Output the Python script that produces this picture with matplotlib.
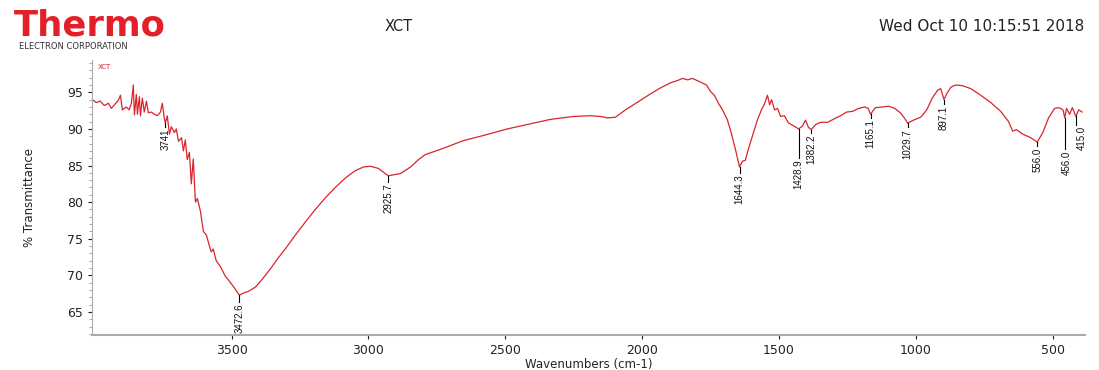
import matplotlib
matplotlib.use('Agg')
import matplotlib.pyplot as plt
from matplotlib.ticker import MultipleLocator

plt.rcParams['font.family'] = ['DejaVu Sans']

# Spectrum (wavenumber cm-1, % transmittance)
wavenumber = [4009, 3994, 3980, 3965, 3950, 3939, 3928, 3914, 3906, 3899,
              3885, 3874, 3866, 3859, 3855, 3848, 3844, 3837, 3833, 3826,
              3819, 3811, 3804, 3793, 3782, 3771, 3760, 3753, 3746, 3742,
              3735, 3727, 3720, 3709, 3702, 3694, 3683, 3676, 3669, 3662,
              3654, 3647, 3640, 3632, 3625, 3614, 3603, 3592, 3581, 3574,
              3567, 3556, 3541, 3523, 3504, 3490, 3472, 3455, 3439, 3413,
              3387, 3358, 3329, 3300, 3267, 3230, 3194, 3157, 3121, 3084,
              3048, 3018, 2993, 2963, 2942, 2927, 2912, 2883, 2846, 2817,
              2792, 2737, 2653, 2580, 2492, 2419, 2335, 2251, 2189, 2152,
              2126, 2097, 2061, 2006, 1969, 1933, 1896, 1871, 1852, 1834,
              1816, 1787, 1765, 1750, 1736, 1721, 1706, 1688, 1674, 1659,
              1644, 1633, 1623, 1612, 1597, 1579, 1564, 1553, 1542, 1534,
              1527, 1516, 1505, 1494, 1480, 1465, 1450, 1428, 1414, 1403,
              1392, 1382, 1366, 1348, 1322, 1297, 1275, 1253, 1231, 1209,
              1187, 1174, 1165, 1148, 1121, 1099, 1077, 1056, 1040, 1030,
              1008, 982, 960, 940, 920, 909, 897, 887, 872, 854,
              829, 799, 763, 726, 690, 661, 646, 632, 610, 580,
              556, 536, 515, 493, 478, 466, 461, 456, 449, 438,
              428, 415, 405, 392]
transmittance = [94.0, 93.6, 93.8, 93.2, 93.5, 92.8, 93.3, 93.9, 94.6, 92.6,
                 93.0, 92.6, 93.5, 96.0, 91.9, 94.7, 92.0, 94.4, 91.8, 94.2,
                 92.3, 93.8, 92.2, 92.3, 92.0, 91.8, 92.3, 93.5, 91.5, 90.8,
                 91.8, 89.3, 90.3, 89.5, 90.0, 88.3, 88.8, 87.0, 88.5, 85.8,
                 86.8, 82.5, 85.9, 80.0, 80.5, 78.8, 76.0, 75.5, 74.0, 73.2,
                 73.6, 72.0, 71.2, 69.9, 69.0, 68.3, 67.3, 67.6, 67.8, 68.4,
                 69.5, 70.9, 72.4, 73.8, 75.5, 77.3, 79.0, 80.6, 82.0, 83.3,
                 84.3, 84.8, 84.9, 84.6, 84.0, 83.6, 83.7, 83.9, 84.8, 85.8,
                 86.5, 87.2, 88.4, 89.1, 90.0, 90.6, 91.3, 91.7, 91.8, 91.7,
                 91.5, 91.6, 92.6, 93.9, 94.8, 95.6, 96.3, 96.6, 96.9, 96.7,
                 96.9, 96.4, 96.0, 95.1, 94.6, 93.5, 92.6, 91.2, 89.4, 87.2,
                 84.8, 85.6, 85.7, 87.2, 89.0, 91.2, 92.6, 93.4, 94.6, 93.3,
                 94.0, 92.6, 92.8, 91.7, 91.8, 90.8, 90.5, 90.0, 90.4, 91.2,
                 90.2, 89.9, 90.6, 90.9, 90.9, 91.4, 91.8, 92.3, 92.4, 92.8,
                 93.0, 92.8, 92.0, 92.9, 93.0, 93.1, 92.8, 92.2, 91.4, 90.8,
                 91.2, 91.6, 92.6, 94.2, 95.3, 95.5, 94.0, 94.8, 95.7, 96.0,
                 95.9, 95.5, 94.6, 93.6, 92.4, 91.0, 89.7, 89.9, 89.3, 88.8,
                 88.2, 89.5, 91.5, 92.8, 92.9, 92.7, 92.5, 91.5, 92.8, 92.0,
                 92.9, 91.7, 92.6, 92.3]

# Peak labels
peak_labels = ['3741', '3472.6', '2925.7', '1644.3', '1428.9', '1382.2',
               '1165.1', '1029.7', '897.1', '556.0', '456.0', '415.0']
peak_pos = [3742, 3472, 2927, 1644, 1428, 1382, 1165, 1030, 897, 556, 456, 415]
line_top = [90.8, 67.3, 83.6, 84.8, 90.0, 89.9, 92.0, 90.8, 94.0, 88.2, 91.5, 91.7]
line_bottom = [90.2, 66.4, 82.8, 84.0, 86.0, 89.4, 91.5, 90.2, 93.4, 87.6, 87.2, 90.6]
text_shift = [0, 0, 0, 0, 0, 0, 0, 0, 0, 0, -8, -22]

fig = plt.figure(figsize=(10.99, 3.70), dpi=100)
ax = fig.add_axes([0.0837, 0.0946, 0.904, 0.743])

ax.plot(wavenumber, transmittance, color='#d8252b', lw=0.9)

# peak markers + labels
for lab, w, t0, t1, dx in zip(peak_labels, peak_pos, line_top, line_bottom, text_shift):
    ax.plot([w, w], [t0, t1], color='black', lw=0.8)
    ax.text(w + dx, t1 - 0.2, lab, rotation=90, ha='center', va='top',
            fontsize=7, color='#111111', family='Liberation Sans')

ax.set_xlim(4010, 380)
ax.set_ylim(61.85, 99.4)
ax.set_xticks([3500, 3000, 2500, 2000, 1500, 1000, 500])
ax.set_yticks([65, 70, 75, 80, 85, 90, 95])
ax.yaxis.set_minor_locator(MultipleLocator(1))
ax.tick_params(axis='both', labelsize=9, colors='#222222', length=3, width=0.8)
ax.tick_params(axis='y', which='minor', length=2, color='#999999')
for s in ['top', 'right']:
    ax.spines[s].set_visible(False)
ax.spines['left'].set_color('#aaaaaa')
ax.spines['bottom'].set_color('#aaaaaa')
ax.spines['bottom'].set_linewidth(1.5)
ax.set_xlabel('Wavenumbers (cm-1)', fontsize=8.5, color='#222222', labelpad=1)
ax.set_ylabel('% Transmittance', fontsize=8.5, color='#222222', labelpad=22)
ax.text(0.006, 0.985, 'XCT', transform=ax.transAxes, fontsize=5,
        color='#d8252b', va='top')

# header
fig.text(0.013, 0.905, 'Thermo', fontsize=25.5, fontweight='bold', color='#e3202a')
fig.text(0.017, 0.868, 'ELECTRON CORPORATION', fontsize=6, color='#333333')
fig.text(0.350, 0.915, 'XCT', fontsize=10.5, color='#222222')
fig.text(0.800, 0.915, 'Wed Oct 10 10:15:51 2018', fontsize=11, color='#222222')

fig.savefig('out.png', dpi=100)
